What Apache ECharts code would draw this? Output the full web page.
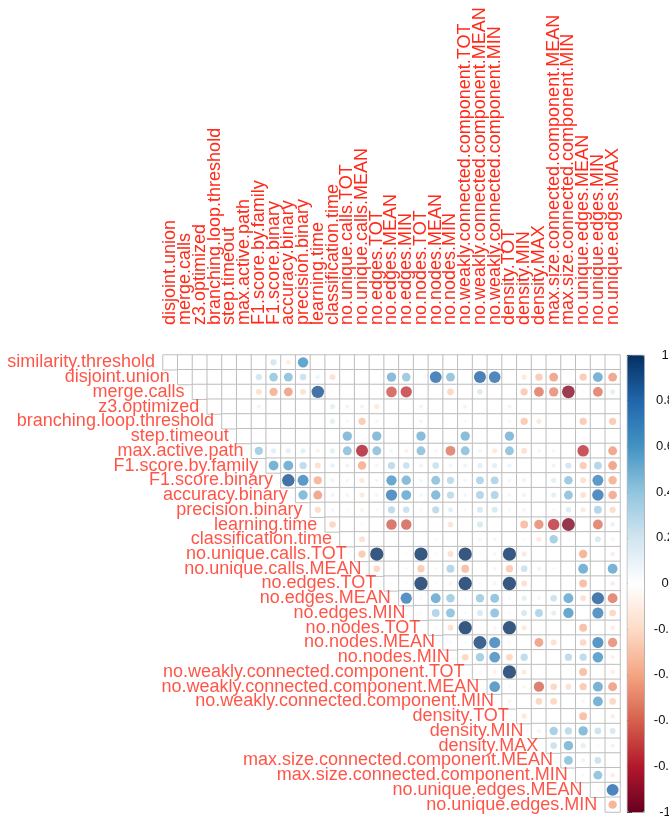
<!DOCTYPE html>
<html>
<head>
<meta charset="utf-8">
<script src="https://cdn.jsdelivr.net/npm/echarts@6/dist/echarts.min.js"></script>
<style>
html,body{margin:0;padding:0;background:#fff}
#chart{width:669px;height:820px}
</style>
</head>
<body>
<div id="chart"></div>
<script>
var varNames = ['similarity.threshold','disjoint.union','merge.calls','z3.optimized','branching.loop.threshold',
	'step.timeout','max.active.path','F1.score.by.family','F1.score.binary','accuracy.binary','precision.binary',
	'learning.time','classification.time','no.unique.calls.TOT','no.unique.calls.MEAN','no.edges.TOT',
	'no.edges.MEAN','no.edges.MIN','no.nodes.TOT','no.nodes.MEAN','no.nodes.MIN',
	'no.weakly.connected.component.TOT','no.weakly.connected.component.MEAN','no.weakly.connected.component.MIN',
	'density.TOT','density.MIN','density.MAX','max.size.connected.component.MEAN','max.size.connected.component.MIN',
	'no.unique.edges.MEAN','no.unique.edges.MIN','no.unique.edges.MAX'];
var rowNames = varNames.slice(0, 31);
var colNames = varNames.slice(1);
var _ = null;

// each row starts at its own diagonal cell (upper triangle)
var c_similarity_threshold = [_,_,_,_,_,_,_,0.22,-0.12,0.62,_,_,_,_,_,_,_,_,_,_,_,_,_,_,_,_,_,_,_,_,_];
var c_disjoint_union = [_,_,_,_,_,0.22,0.42,0.45,0.25,0.1,-0.2,_,_,_,0.5,0.42,_,0.8,0.45,_,0.82,0.78,_,-0.15,-0.3,-0.45,_,-0.3,0.55,-0.45];
var c_merge_calls = [_,_,_,_,-0.2,-0.4,-0.45,-0.2,0.88,-0.05,_,_,_,-0.65,-0.72,_,_,-0.25,_,0.18,_,_,-0.3,-0.55,-0.5,-0.92,-0.05,-0.55,0.15];
var c_z3_optimized = [_,_,_,0.1,_,_,_,_,0.15,-0.1,-0.1,-0.15,_,_,-0.1,_,_,-0.1,_,_,-0.1,_,_,_,_,_,_,_];
var c_branching_loop_threshold = [_,_,_,_,_,_,_,0.15,0.06,-0.3,0.08,_,_,0.08,_,_,0.06,_,_,0.06,-0.3,-0.15,_,_,-0.3,_,-0.3];
var c_step_timeout = [_,_,_,_,_,_,_,0.5,_,0.5,_,_,0.5,_,_,0.5,_,_,0.5,_,_,_,_,_,_,0.03];
var c_max_active_path = [0.4,0.15,0.15,0.15,-0.1,0.15,0.45,-0.82,0.45,0.08,-0.1,0.45,0.08,-0.55,0.45,0.08,-0.15,0.45,-0.2,-0.08,0.08,_,-0.75,_,-0.45];
var c_F1_score_by_family = [0.55,0.55,0.3,-0.2,0.12,0.1,-0.4,0.08,0.3,0.25,0.1,0.25,0.08,0.1,0.15,0.15,0.1,_,_,0.1,0.22,-0.3,0.35,-0.45];
var c_F1_score_binary = [0.88,0.68,-0.38,0.1,0.08,-0.15,0.08,0.6,0.5,0.08,0.45,0.3,0.08,0.35,0.35,0.08,0.1,_,0.15,0.42,-0.2,0.68,-0.4];
var c_accuracy_binary = [0.5,-0.45,0.1,0.08,-0.15,0.08,0.72,0.55,0.08,0.5,0.3,0.08,0.35,0.35,0.08,0.1,_,0.15,0.45,-0.2,0.75,-0.42];
var c_precision_binary = [-0.22,0.08,0.05,-0.1,0.05,0.3,0.25,0.06,0.3,0.15,0.06,0.2,0.2,0.06,0.08,_,0.06,0.18,-0.15,0.35,-0.22];
var c_learning_time = [-0.25,_,0.05,_,-0.62,-0.62,_,_,-0.18,_,0.2,_,_,-0.35,-0.5,-0.75,-0.95,_,-0.55,0.12];
var c_classification_time = [_,-0.2,_,_,_,_,0.05,_,_,0.08,-0.08,_,0.05,-0.15,0.4,0.05,_,0.2,-0.08];
var c_no_unique_calls_TOT = [-0.3,1.0,_,-0.05,1.0,0.05,-0.2,1.0,0.05,-0.08,1.0,-0.15,_,_,_,-0.4,_,-0.12];
var c_no_unique_calls_MEAN = [-0.25,0.05,0.05,-0.3,0.05,0.35,-0.35,_,0.08,-0.3,0.25,0.1,-0.05,_,0.55,_,0.55];
var c_no_edges_TOT = [0.05,0.05,1.0,0.05,-0.08,1.0,0.05,-0.08,1.0,-0.2,_,_,_,-0.35,_,-0.12];
var c_no_edges_MEAN = [0.72,0.05,0.55,0.4,0.05,0.4,0.45,0.05,0.15,0.08,0.25,0.55,-0.2,0.85,-0.55];
var c_no_edges_MIN = [0.05,0.35,0.45,0.05,0.2,0.45,-0.05,0.2,0.35,0.15,0.6,_,0.7,-0.25];
var c_no_nodes_TOT = [0.05,-0.2,1.0,0.05,-0.08,1.0,-0.15,_,_,_,-0.35,_,-0.12];
var c_no_nodes_MEAN = [0.05,0.05,0.95,0.7,0.05,_,-0.45,-0.2,_,-0.25,0.7,-0.5];
var c_no_nodes_MIN = [-0.25,0.4,0.65,-0.25,0.3,_,_,0.3,0.3,0.62,-0.1];
var c_nwcc_TOT = [0.05,-0.1,1.0,-0.15,_,_,_,-0.35,_,-0.12];
var c_nwcc_MEAN = [0.65,0.05,-0.08,-0.6,-0.25,-0.2,-0.3,0.55,-0.45];
var c_nwcc_MIN = [-0.08,_,-0.25,-0.25,_,-0.08,0.55,-0.25];
var c_density_TOT = [-0.15,_,_,_,-0.35,_,-0.12];
var c_density_MIN = [0.08,0.4,0.3,0.5,0.25,0.2];
var c_density_MAX = [0.25,0.5,0.15,-0.05,0.1];
var c_mscc_MEAN = [0.45,0.1,0.25,_];
var c_mscc_MIN = [0.05,0.45,-0.12];
var c_no_unique_edges_MEAN = [-0.05,0.8];
var c_no_unique_edges_MIN = [-0.4];

var corrRows = [c_similarity_threshold,c_disjoint_union,c_merge_calls,c_z3_optimized,c_branching_loop_threshold,
	c_step_timeout,c_max_active_path,c_F1_score_by_family,c_F1_score_binary,c_accuracy_binary,c_precision_binary,
	c_learning_time,c_classification_time,c_no_unique_calls_TOT,c_no_unique_calls_MEAN,c_no_edges_TOT,
	c_no_edges_MEAN,c_no_edges_MIN,c_no_nodes_TOT,c_no_nodes_MEAN,c_no_nodes_MIN,c_nwcc_TOT,c_nwcc_MEAN,
	c_nwcc_MIN,c_density_TOT,c_density_MIN,c_density_MAX,c_mscc_MEAN,c_mscc_MIN,c_no_unique_edges_MEAN,
	c_no_unique_edges_MIN];

var palette = ['#67001F','#B2182B','#D6604D','#F4A582','#FDDBC7','#FFFFFF','#D1E5F0','#92C5DE','#4393C3','#2166AC','#053061'];

var gridLeft = 163, gridTop = 355, gridSize = 457;
var cell = gridSize / 31;

var cellData = [], dotData = [], labelData = [];
corrRows.forEach(function(row, i) {
	labelData.push([i, i]);
	row.forEach(function(v, k) {
		var j = i + k;
		cellData.push([j, i, 0]);
		if (v !== null) dotData.push([j, i, v]);
	});
});

var font = 'Liberation Sans, Arial, Helvetica, sans-serif';
var chart = echarts.init(document.getElementById('chart'));
chart.setOption({
	backgroundColor: '#fff',
	animation: false,
	grid: [
		{left: gridLeft, top: gridTop, width: gridSize, height: gridSize, containLabel: false, outerBoundsMode: 'none'},
		{left: 627, top: gridTop, width: 17, height: gridSize, containLabel: false, outerBoundsMode: 'none'}
	],
	xAxis: [
		{
			type: 'category', data: colNames, position: 'top', gridIndex: 0,
			axisLine: {show: false}, axisTick: {show: false}, splitLine: {show: false},
			axisLabel: {rotate: -90, interval: 0, margin: 30, color: '#ff2a1a', fontSize: 18, fontFamily: font}
		},
		{type: 'value', gridIndex: 1, show: false, min: 0, max: 1}
	],
	yAxis: [
		{
			type: 'category', data: rowNames, inverse: true, gridIndex: 0,
			axisLine: {show: false}, axisTick: {show: false}, axisLabel: {show: false}, splitLine: {show: false}
		},
		{
			type: 'value', gridIndex: 1, position: 'right', min: -1, max: 1, interval: 0.2,
			axisLine: {show: false}, splitLine: {show: false},
			axisTick: {show: true, length: 5, lineStyle: {color: '#333'}},
			axisLabel: {color: '#111', fontSize: 13, margin: 21, align: 'center', fontFamily: font,
				formatter: function(v) { return String(Math.round(v * 10) / 10); }}
		}
	],
	visualMap: {
		type: 'continuous', seriesIndex: 1, dimension: 2, min: -1, max: 1,
		left: 627, top: gridTop, itemWidth: 17, itemHeight: gridSize, padding: 0,
		borderColor: '#555', borderWidth: 0.6,
		calculable: false, hoverLink: false, realtime: false,
		inRange: {color: palette}
	},
	series: [
		{
			type: 'heatmap', data: cellData, silent: true,
			itemStyle: {color: '#fff', borderColor: '#bebebe', borderWidth: 1},
			emphasis: {disabled: true}
		},
		{
			type: 'scatter', data: dotData, silent: true, symbol: 'circle',
			symbolSize: function(d) { return 0.9 * Math.sqrt(Math.abs(d[2])) * cell; }
		},
		{
			type: 'scatter', data: labelData, silent: true, symbolSize: 0,
			label: {
				show: true, position: 'left', distance: cell / 2 + 8,
				color: '#ff2a1a', fontSize: 18, fontFamily: font,
				formatter: function(p) { return rowNames[p.data[1]]; }
			}
		}
	]
});
</script>
</body>
</html>
